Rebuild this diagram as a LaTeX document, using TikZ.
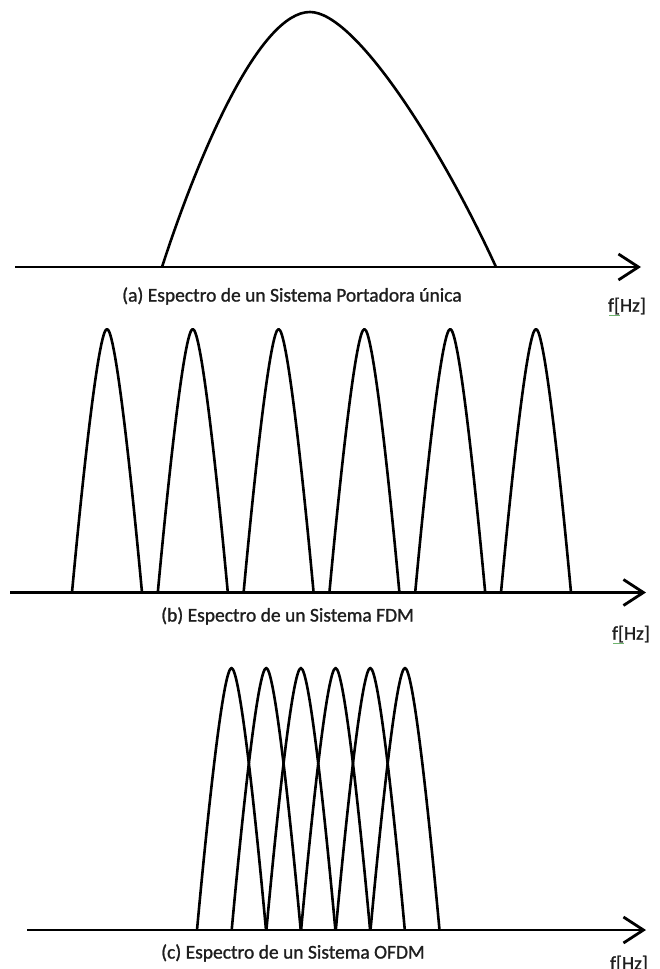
\documentclass[tikz,border=0pt]{standalone}
\usepackage{fontspec}
\setmainfont{Carlito}
\newfontfamily\capfont[FakeBold=1.2]{Carlito}
\usetikzlibrary{arrows.meta}
\definecolor{txt}{RGB}{30,30,30}
\definecolor{spellgreen}{RGB}{110,180,110}
\newcommand\spectlobe[4]{%
  \draw[curve] ({#1-#4},#2) .. controls ({#1-0.686*#4},{#2+0.45*(#3-#2)}) and ({#1-0.24*#4},#3) .. (#1,#3)
    .. controls ({#1+0.24*#4},#3) and ({#1+0.686*#4},{#2+0.45*(#3-#2)}) .. ({#1+#4},#2);}
\begin{document}
\begin{tikzpicture}[x=1pt,y=-1pt,
  curve/.style={line width=2.6pt, black, line join=round},
  axis/.style={line width=2.8pt, black, -{Straight Barb[length=20pt,width=26pt]}},
  caption/.style={font=\capfont\fontsize{19.5}{22}\selectfont, text=txt, inner sep=0pt, anchor=west},
  unit/.style={font=\capfont\fontsize{19.5}{22}\selectfont, text=txt, inner sep=0pt, anchor=east},
  spell/.style={line width=1pt, draw=spellgreen}]
\useasboundingbox (0,0) rectangle (660,969);
\clip (0,0) rectangle (660,969);
% (a)
\coordinate (a0) at (15,267);
\coordinate (a1) at (641,267);
\draw[axis] (a0) -- (a1);
\draw[curve] (162,267) .. controls (200,150) and (260,12) .. (310,12)
  .. controls (355,12) and (440,145) .. (496,267);
\node[caption] (capa) at (122,296) {(a) Espectro de un Sistema Portadora única};
\node[unit] (fa) at (646,306) {f[Hz]};
\draw[spell] (fa.south west) ++(1,1) -- ++(11,0);
% (b)
\coordinate (b0) at (10,592.5);
\coordinate (b1) at (646,592.5);
\draw[axis] (b0) -- (b1);
\foreach \k in {0,...,5} {\spectlobe{107+85.8*\k}{592.5}{329}{35}}
\node[caption] (capb) at (161,616) {(b) Espectro de un Sistema FDM};
\node[unit] (fb) at (650,634) {f[Hz]};
\draw[spell] (fb.south west) ++(1,1) -- ++(11,0);
% (c)
\coordinate (c0) at (27,930);
\coordinate (c1) at (646,930);
\draw[axis] (c0) -- (c1);
\foreach \k in {0,...,5} {\spectlobe{231.5+34.7*\k}{930}{668}{34.5}}
\node[caption] (capc) at (161,953) {(c) Espectro de un Sistema OFDM};
\node[unit] (fc) at (648,964) {f[Hz]};
\end{tikzpicture}
\end{document}
